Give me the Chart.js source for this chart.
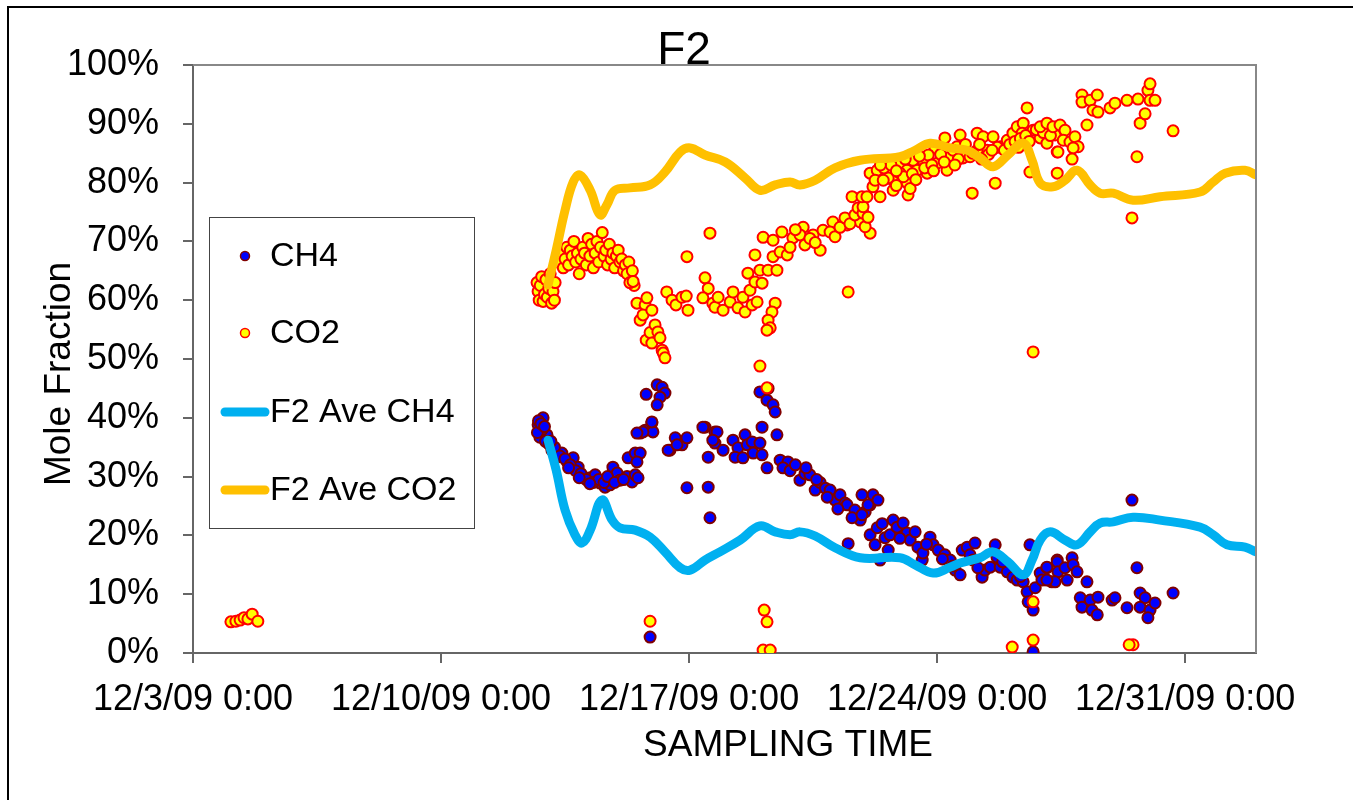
<!DOCTYPE html>
<html>
<head>
<meta charset="utf-8">
<title>F2</title>
<script src="https://cdn.jsdelivr.net/npm/chart.js@4.4.1/dist/chart.umd.min.js"></script>
<style>
  html, body { margin: 0; padding: 0; background: #fff; }
  #wrap { position: relative; width: 1353px; height: 800px; }
</style>
</head>
<body>
<div id="wrap"><canvas id="chart" width="1353" height="800"></canvas></div>
<script>
// x = days since 12/3/09 0:00, y = mole fraction in %
const xTickDays = [0, 7, 14, 21, 28];
const xTickLabels = ['12/3/09 0:00', '12/10/09 0:00', '12/17/09 0:00', '12/24/09 0:00', '12/31/09 0:00'];
const seriesNames = ['CH4', 'CO2', 'F2 Ave CH4', 'F2 Ave CO2'];

const ch4Points = [
  [9.88,40.0],[9.74,38.8],[9.79,36.7],[9.99,37.1],[10.13,34.5],[10.27,33.3],[10.41,34.0],[10.56,32.5],
  [10.73,33.2],[10.87,31.6],[11.01,30.0],[11.21,29.8],[11.35,30.3],[11.49,28.9],[11.63,28.2],[11.77,28.6],
  [11.85,31.6],[11.97,30.6],[12.05,29.4],[12.25,30.0],[12.39,29.1],[12.48,30.3],[12.56,29.8],[12.28,33.2],
  [12.48,34.0],[12.62,34.0],[12.53,32.5],[12.62,37.4],[12.76,37.9],[12.95,39.1],[12.98,37.6],[13.46,34.5],
  [13.61,36.6],[13.80,35.4],[13.94,36.6],[13.94,28.1],[14.45,38.4],[14.73,37.6],[14.73,35.7],[14.54,33.3],
  [14.54,28.2],[14.59,23.0],[12.90,2.7],
  [9.75,39.5],[9.85,38.0],[9.95,36.0],[10.05,35.5],[10.20,35.0],[10.35,33.5],[10.50,33.0],[10.65,32.0],
  [10.80,31.0],[10.95,30.5],[11.10,29.5],[11.30,29.0],[11.45,29.5],[11.60,29.0],[11.70,30.0],[11.90,29.0],
  [12.15,29.5],[9.72,37.5],[9.82,39.0],[9.92,38.5],[10.10,36.0],[10.60,31.5],[10.90,29.8],[11.20,28.8],
  [13.10,45.6],[13.24,45.2],[13.32,44.2],[13.18,43.5],[13.10,42.2],[12.79,44.0],[12.95,39.3],[12.70,37.6],
  [12.53,37.4],[13.41,34.5],[13.66,35.4],[14.79,37.6],
  [16.00,44.4],[16.23,45.0],[16.20,43.0],[16.37,42.2],[16.43,41.0],[16.06,38.4],[16.48,37.1],[14.39,38.4],
  [14.67,36.2],[14.96,34.5],[15.24,36.2],[15.58,37.1],[15.38,34.9],[15.64,35.4],[15.78,35.9],[16.00,35.7],
  [15.81,34.0],[16.06,33.7],[15.30,33.3],[15.52,33.2],[16.20,31.5],[16.57,32.8],[16.79,32.5],[16.65,31.5],
  [16.85,31.0],[17.13,29.4],[17.27,30.5],[17.41,30.3],[17.56,27.7],[17.70,29.0],[17.85,28.0],[17.98,27.7],
  [18.12,26.0],[18.26,26.9],[18.40,25.5],[18.46,25.2],[18.49,18.6],[18.68,24.3],[18.83,22.6],[18.97,24.0],
  [19.11,25.2],[19.19,26.9],[19.33,26.0],[17.00,32.0],[17.30,31.5],[17.60,29.5],[17.90,26.5],[18.20,24.5],
  [18.60,23.0],
  [18.88,26.9],[19.05,25.2],[18.88,23.5],[19.11,20.1],[19.31,21.3],[19.25,18.4],[19.39,15.8],[19.53,19.6],
  [19.67,20.1],[19.62,17.5],[19.76,22.6],[19.87,21.4],[20.04,22.1],[20.15,20.4],[20.24,19.2],[20.38,20.6],
  [20.46,18.0],[20.58,15.8],[20.60,17.0],[20.80,19.7],[20.89,18.4],[21.03,17.5],[21.22,16.7],[21.37,15.8],
  [21.51,14.1],[21.65,13.3],[21.71,17.5],[21.85,18.0],[21.93,16.7],[22.07,18.7],[22.02,15.8],[22.27,12.9],
  [22.35,14.1],[22.50,14.6],[22.64,18.4],[22.69,16.3],[22.78,14.6],[22.98,13.8],[23.14,12.9],[23.26,12.4],
  [23.43,12.1],[23.62,18.4],[23.54,10.4],[23.57,8.7],[23.71,7.3],[23.77,11.1],[23.91,13.6],[24.10,14.5],
  [24.24,12.1],[24.39,15.8],[23.71,0.2],[23.96,12.4],
  [19.45,22.0],[19.95,19.5],[20.70,18.5],[21.15,16.0],[21.45,14.8],[22.15,14.5],[22.85,15.5],[23.35,13.0],
  [24.10,14.6],[24.39,15.5],[24.41,13.8],[24.61,14.5],[24.81,16.2],[24.84,15.0],[24.95,13.8],[24.67,12.4],
  [24.33,12.1],[24.10,12.4],[25.23,12.1],[25.04,9.4],[25.09,7.8],[25.32,9.0],[25.37,7.3],[25.52,6.5],
  [25.54,9.5],[25.94,9.0],[26.02,9.4],[26.36,7.7],[26.64,14.5],[26.50,26.0],[26.73,10.2],[26.87,9.4],
  [26.73,7.8],[27.01,7.3],[27.15,8.5],[26.95,6.0],[27.66,10.2]
];

const co2Points = [
  [1.07,5.3],[1.21,5.4],[1.33,5.6],[1.44,6.0],[1.55,5.8],[1.67,6.6],[1.83,5.4],
  [9.71,63.0],[9.74,61.5],[9.77,60.0],[9.80,62.5],[9.84,64.0],[9.88,59.8],[9.92,61.0],[9.96,63.5],
  [10.00,60.5],[10.04,62.0],[10.08,64.5],[10.12,59.5],[10.16,61.5],[10.20,60.0],[10.22,63.0],
  [10.30,66.5],[10.40,68.0],[10.45,65.5],[10.50,67.0],[10.55,69.0],[10.60,66.0],[10.65,68.5],[10.70,67.5],
  [10.75,70.0],[10.80,66.5],[10.85,68.0],[10.90,64.5],[10.95,67.0],[11.00,69.0],[11.05,68.0],[11.10,66.0],
  [11.15,70.5],[11.20,67.5],[11.25,69.5],[11.30,65.5],[11.35,68.0],[11.40,70.0],[11.45,66.5],[11.50,69.0],
  [11.55,71.5],[11.60,67.5],[11.65,68.5],[11.70,66.0],[11.75,69.5],[11.80,67.0],[11.85,68.0],[11.90,65.5],
  [11.95,67.5],[12.00,68.5],[12.05,66.5],[12.10,67.0],[12.15,65.0],[12.20,66.0],
  [12.25,64.5],[12.30,66.5],[12.40,65.0],[12.45,62.5],
  [12.33,63.0],[12.42,63.2],[12.53,59.5],[12.62,56.6],[12.76,59.2],[12.81,60.4],[12.79,53.2],[12.70,57.5],
  [12.90,54.5],[12.95,58.3],[12.95,52.7],[13.04,55.8],[13.12,54.6],[13.18,53.6],[13.24,51.5],[13.27,51.0],
  [13.32,50.2],[12.90,5.4],
  [13.37,61.4],[13.52,60.0],[13.63,59.2],[13.80,60.5],[13.92,60.7],[13.94,67.4],[13.97,58.3],[14.45,63.8],
  [14.54,62.0],[14.39,60.4],[14.59,71.4],[14.67,59.5],[14.73,58.8],[14.82,60.5],[14.96,58.3],[15.16,59.7],
  [15.24,61.4],[15.38,58.7],[15.52,60.5],[15.58,58.0],[15.72,61.7],[15.78,59.2],[15.92,59.7],[15.66,64.6],
  [15.86,63.1],[16.06,62.9],[16.00,65.1],[16.23,65.1],[16.48,65.1],[15.86,67.7],[16.37,67.4],[16.57,68.2],
  [16.77,67.7],[16.09,70.7],[16.37,70.2],[16.62,71.6],[16.93,70.6],[17.22,72.4],[17.50,71.1],[17.78,71.9],
  [17.70,68.5],[18.06,73.3],[18.46,72.8],[18.83,73.3],[19.11,71.4],[18.49,61.4],
  [16.43,59.5],[16.34,58.0],[16.23,56.6],[16.29,55.3],[16.20,54.9],[16.00,48.8],[16.20,45.1],
  [16.12,7.3],[16.20,5.3],[16.09,0.5],[16.29,0.5],
  [17.13,71.1],[17.27,69.4],[17.41,70.5],[17.56,69.8],[17.98,71.6],[18.12,70.8],[18.26,72.4],[18.40,74.0],
  [18.54,73.0],[18.60,77.6],[18.68,74.5],[18.77,75.7],[18.91,74.8],[18.97,72.5],[16.85,69.0],[17.00,72.0],
  [19.05,74.1],[18.91,75.9],[18.88,77.6],[19.39,77.6],[19.19,79.3],[19.11,81.6],[19.31,82.1],[19.59,81.6],
  [19.76,80.4],[19.76,78.7],[20.15,80.0],[20.18,77.9],[20.24,79.0],[19.95,83.3],[20.43,82.1],[20.72,81.6],
  [20.60,83.8],[21.00,83.3],[21.28,82.1],[21.22,87.6],[21.65,88.1],[21.56,86.1],[21.73,84.2],[21.37,84.4],
  [21.99,78.2],[22.13,88.4],[22.30,87.8],[22.41,85.5],[22.58,87.8],[22.78,86.1],[22.64,79.9],[22.98,87.2],
  [23.14,88.4],[23.26,89.5],[23.54,92.7],[23.43,90.1],[23.40,88.4],[23.62,81.8],[23.71,88.9],[23.91,87.6],
  [24.10,89.8],[24.10,86.7],[24.39,89.5],[24.39,85.2],[24.33,88.1],[21.93,84.4],[22.13,85.5],[20.94,85.9],
  [20.75,84.7],[20.32,83.8],[20.15,82.1],[19.95,81.6],[19.62,80.8],[19.02,77.6],[19.25,80.4],[19.48,80.4],
  [19.50,82.5],[19.70,83.0],[19.85,79.5],[20.05,81.0],[20.30,81.5],[20.50,84.5],[20.65,82.5],[20.85,83.0],
  [21.10,84.8],[21.45,85.5],[21.60,84.0],[21.80,86.5],[22.00,85.0],[22.20,86.5],[22.45,84.8],[22.70,86.0],
  [22.90,85.5],[23.05,86.5],[23.20,87.0],[23.35,87.5],[23.50,88.0],[23.80,89.0],[24.00,88.5],[24.20,88.0],
  [19.40,83.0],[19.85,82.0],[20.10,84.0],[20.40,80.5],[20.90,82.0],[21.20,83.5],[21.50,83.0],[22.25,84.0],
  [22.55,85.5],[23.30,86.0],[23.60,87.0],
  [23.91,89.5],[24.10,90.1],[24.27,89.5],[24.47,89.8],[24.61,88.9],[24.41,85.2],[24.56,87.2],[24.75,86.9],
  [24.89,87.8],[24.98,86.1],[24.84,85.9],[24.81,84.0],[24.39,81.6],[25.23,89.8],[25.09,94.9],[25.09,93.7],
  [25.32,94.0],[25.52,94.9],[25.40,92.3],[25.54,92.0],[25.88,92.7],[26.02,93.5],[26.36,94.0],[26.67,94.2],
  [26.64,84.4],[26.50,74.0],[26.73,90.1],[26.87,91.7],[26.95,95.7],[27.01,96.8],[27.01,94.0],[27.15,94.0],
  [27.66,88.8],
  [23.12,1.0],[23.71,2.2],[23.71,8.7],[23.71,51.2],[26.53,1.4],[26.42,1.4]
];

const aveCh4Points = [
  [10.02,36.2],[10.25,31.1],[10.50,24.3],[10.78,20.1],[10.98,18.7],[11.21,20.9],[11.54,26.0],[11.83,22.6],
  [12.05,21.3],[12.48,20.9],[12.90,19.7],[13.32,17.2],[13.75,14.5],[14.03,14.1],[14.45,15.8],[14.87,17.2],
  [15.44,19.2],[16.00,21.6],[16.43,20.6],[16.85,20.1],[17.13,20.6],[17.56,19.9],[18.12,17.9],[18.83,16.2],
  [19.95,16.2],[20.38,15.0],[20.89,13.6],[21.37,14.6],[21.65,15.3],[22.21,16.2],[22.58,17.2],[23.00,15.5],
  [23.43,13.3],[23.68,15.8],[23.91,19.2],[24.19,20.6],[24.61,19.2],[24.95,18.4],[25.32,20.6],[25.60,22.1],
  [25.97,22.3],[26.53,23.1],[27.29,22.6],[28.42,21.4],[28.79,20.1],[29.18,18.4],[29.69,18.0],[30.00,17.2]
];

const aveCo2Points = [
  [10.02,62.6],[10.25,68.5],[10.50,75.3],[10.73,80.1],[10.92,81.3],[11.21,78.7],[11.49,74.5],[11.68,76.2],
  [11.91,78.7],[12.33,79.1],[12.90,79.6],[13.32,81.8],[13.75,85.2],[14.03,85.9],[14.45,84.7],[15.02,83.5],
  [15.58,80.8],[16.00,78.7],[16.43,79.6],[16.85,80.1],[17.13,79.6],[17.56,80.4],[18.12,82.5],[18.83,83.8],
  [19.95,84.4],[20.38,85.5],[20.80,86.7],[21.37,85.9],[21.85,85.5],[22.21,84.2],[22.58,82.7],[23.00,84.7],
  [23.43,86.7],[23.68,83.8],[23.91,79.9],[24.27,79.3],[24.61,80.4],[24.95,82.1],[25.32,79.6],[25.60,78.2],
  [25.97,78.2],[26.53,77.0],[27.29,77.6],[28.42,78.4],[28.79,80.1],[29.13,81.6],[29.69,82.1],[30.00,81.3]
];

const FONT = "'Liberation Sans', Arial, sans-serif";
const AXIS_GRAY = '#666666';
const toXY = pts => pts.map(p => ({ x: p[0], y: p[1] }));

const styles = [
  { type: 'marker', fill: '#0000FF', stroke: '#800000' },
  { type: 'marker', fill: '#FFFF00', stroke: '#FF0000' },
  { type: 'line', stroke: '#00B0F0' },
  { type: 'line', stroke: '#FFC000' }
];

// frame, titles and the boxed legend drawn straight on the canvas
const decorPlugin = {
  id: 'decor',
  beforeDraw(chart) {
    const ctx = chart.ctx;
    ctx.save();
    ctx.fillStyle = '#fff';
    ctx.fillRect(0, 0, chart.width, chart.height);
    ctx.strokeStyle = '#000';
    ctx.lineWidth = 2;
    ctx.beginPath();
    ctx.moveTo(8, chart.height);
    ctx.lineTo(8, 7);
    ctx.lineTo(chart.width, 7);
    ctx.stroke();
    ctx.restore();
  },
  afterDraw(chart) {
    const { ctx, chartArea: a } = chart;
    ctx.save();
    // plot frame top + right
    ctx.strokeStyle = '#888';
    ctx.lineWidth = 2;
    ctx.beginPath();
    ctx.moveTo(a.left, a.top);
    ctx.lineTo(a.right, a.top);
    ctx.lineTo(a.right, a.bottom);
    ctx.stroke();

    // chart title
    ctx.fillStyle = '#000';
    ctx.font = '46px ' + FONT;
    ctx.textAlign = 'center';
    ctx.textBaseline = 'alphabetic';
    ctx.fillText('F2', 684, 64);

    // axis titles
    ctx.font = '37px ' + FONT;
    ctx.textBaseline = 'middle';
    ctx.fillText('SAMPLING TIME', 788, 746);
    ctx.save();
    ctx.translate(60, 374);
    ctx.rotate(-Math.PI / 2);
    ctx.fillText('Mole Fraction', 0, 0);
    ctx.restore();

    // legend
    const lx = 209, ly = 217, lw = 265, lh = 311;
    ctx.fillStyle = '#fff';
    ctx.fillRect(lx, ly, lw, lh);
    ctx.strokeStyle = '#444';
    ctx.lineWidth = 1;
    ctx.strokeRect(lx + 0.5, ly + 0.5, lw, lh);
    const rows = [256, 333, 412, 490];
    ctx.font = '34px ' + FONT;
    ctx.textAlign = 'left';
    ctx.textBaseline = 'middle';
    seriesNames.forEach((name, i) => {
      const s = styles[i], y = rows[i];
      if (s.type === 'marker') {
        ctx.beginPath();
        ctx.arc(245, y, 4.5, 0, Math.PI * 2);
        ctx.fillStyle = s.fill;
        ctx.fill();
        ctx.lineWidth = 1.5;
        ctx.strokeStyle = s.stroke;
        ctx.stroke();
      } else {
        ctx.beginPath();
        ctx.moveTo(225, y);
        ctx.lineTo(265, y);
        ctx.lineWidth = 9;
        ctx.lineCap = 'round';
        ctx.strokeStyle = s.stroke;
        ctx.stroke();
      }
      ctx.fillStyle = '#000';
      ctx.fillText(name, 270, y + 1);
    });
    ctx.restore();
  }
};

new Chart(document.getElementById('chart'), {
  type: 'scatter',
  plugins: [decorPlugin],
  data: {
    datasets: [
      {
        label: seriesNames[0],
        data: toXY(ch4Points),
        pointRadius: 5.5,
        pointBorderWidth: 2,
        backgroundColor: styles[0].fill,
        borderColor: styles[0].stroke,
        order: 3
      },
      {
        label: seriesNames[1],
        data: toXY(co2Points),
        pointRadius: 5.5,
        pointBorderWidth: 2,
        backgroundColor: styles[1].fill,
        borderColor: styles[1].stroke,
        order: 2
      },
      {
        label: seriesNames[2],
        type: 'line',
        data: toXY(aveCh4Points),
        showLine: true,
        pointRadius: 0,
        borderWidth: 9,
        borderColor: styles[2].stroke,
        borderCapStyle: 'round',
        borderJoinStyle: 'round',
        tension: 0.4,
        fill: false,
        order: 1
      },
      {
        label: seriesNames[3],
        type: 'line',
        data: toXY(aveCo2Points),
        showLine: true,
        pointRadius: 0,
        borderWidth: 9,
        borderColor: styles[3].stroke,
        borderCapStyle: 'round',
        borderJoinStyle: 'round',
        tension: 0.4,
        fill: false,
        order: 0
      }
    ]
  },
  options: {
    responsive: false,
    animation: false,
    layout: { padding: { top: 65, right: 97, left: 0, bottom: 0 } },
    plugins: {
      legend: { display: false },
      title: { display: false },
      tooltip: { enabled: false }
    },
    scales: {
      x: {
        type: 'linear',
        min: 0,
        max: 30,
        afterFit: s => { s.height = 147; },
        afterBuildTicks: s => { s.ticks = xTickDays.map(v => ({ value: v })); },
        ticks: {
          autoSkip: false,
          maxRotation: 0,
          padding: 15,
          color: '#000',
          font: { family: FONT, size: 36 },
          callback: (v, i) => xTickLabels[i]
        },
        grid: { drawOnChartArea: false, drawTicks: true, tickLength: 10, color: AXIS_GRAY, lineWidth: 2 },
        border: { display: true, color: AXIS_GRAY, width: 2 }
      },
      y: {
        min: 0,
        max: 100,
        afterFit: s => { s.width = 193; },
        ticks: {
          stepSize: 10,
          padding: 24,
          color: '#000',
          font: { family: FONT, size: 36 },
          callback: v => v + '%'
        },
        grid: { drawOnChartArea: false, drawTicks: true, tickLength: 10, color: AXIS_GRAY, lineWidth: 2 },
        border: { display: true, color: AXIS_GRAY, width: 2 }
      }
    }
  }
});
</script>
</body>
</html>
